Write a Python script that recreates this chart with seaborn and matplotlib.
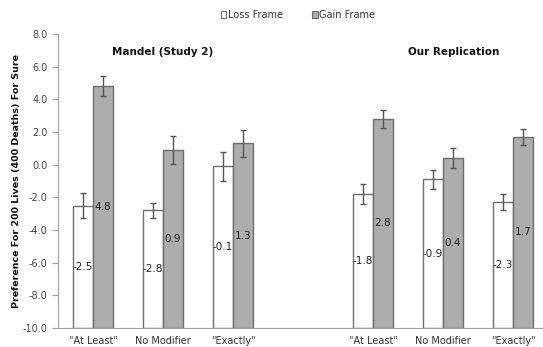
import matplotlib
matplotlib.use("Agg")
import matplotlib.pyplot as plt
import matplotlib.ticker as mticker
from matplotlib.patches import Patch
import numpy as np
import pandas as pd
import seaborn as sns

# Category slots: three modifiers per study, with an empty slot between the studies
slots = ["M_at_least", "M_none", "M_exactly", "gap", "R_at_least", "R_none", "R_exactly"]
slot_labels = ['"At Least"', "No Modifier", '"Exactly"', "", '"At Least"', "No Modifier", '"Exactly"']
data_slots = ["M_at_least", "M_none", "M_exactly", "R_at_least", "R_none", "R_exactly"]

loss_values = [-2.5, -2.8, -0.1, -1.8, -0.9, -2.3]
gain_values = [4.8, 0.9, 1.3, 2.8, 0.4, 1.7]
loss_err = [0.75, 0.45, 0.9, 0.6, 0.6, 0.5]
gain_err = [0.6, 0.85, 0.85, 0.55, 0.62, 0.5]

frames = ["Loss Frame", "Gain Frame"]
panel_titles = ["Mandel (Study 2)", "Our Replication"]
y_label = "Preference For 200 Lives (400 Deaths) For Sure"
baseline = -10.0

df = pd.DataFrame({
    "slot": data_slots * 2,
    "frame": [frames[0]] * len(data_slots) + [frames[1]] * len(data_slots),
    "value": loss_values + gain_values,
    "err": loss_err + gain_err,
})

sns.set_theme(style="white")
plt.rcParams["font.family"] = ["DejaVu Sans"]

fig = plt.figure(figsize=(5.43, 3.47), dpi=100)
ax = fig.add_axes([58 / 543, 1 - 328 / 347, 490 / 543, 294 / 347])

edge = "#6e6e6e"
palette = {frames[0]: "#ffffff", frames[1]: "#adadad"}
sns.barplot(data=df, x="slot", y="value", hue="frame", order=slots,
            hue_order=frames, palette=palette, width=40 / 70, gap=0,
            edgecolor=edge, linewidth=1.0, errorbar=None, legend=False,
            saturation=1, ax=ax)

# Bars rise from the bottom of the value axis rather than from zero
lookup = {(r.slot, r.frame): r for r in df.itertuples()}
for frame_i, frame in enumerate(frames):
    for patch in ax.containers[frame_i].patches:
        cx = patch.get_x() + patch.get_width() / 2
        slot = slots[int(round(cx))]
        row = lookup.get((slot, frame))
        if row is None:
            continue
        val = row.value
        patch.set_y(baseline)
        patch.set_height(val - baseline)
        ax.errorbar(cx, val, yerr=row.err, fmt="none", ecolor="#555555",
                    elinewidth=1.0, capsize=2.2, capthick=1.0, zorder=4)
        ax.text(cx, (val + baseline) / 2, f"{val:.1f}", ha="center",
                va="center", fontsize=7.5, color="#222222", zorder=5)

ax.set_ylim(baseline, 8)
ax.set_xlim(-0.5, len(slots) - 0.5)
ax.yaxis.set_major_locator(mticker.MultipleLocator(2))
ax.yaxis.set_major_formatter(mticker.FormatStrFormatter("%.1f"))
ax.set_xticks(range(len(slots)))
ax.set_xticklabels(slot_labels)
ax.xaxis.set_minor_locator(mticker.FixedLocator(np.arange(-0.5, len(slots), 1.0)))
ax.tick_params(axis="x", which="major", length=0, labelsize=7, colors="#333333", pad=6)
ax.tick_params(axis="x", which="minor", length=4, color="#a0a0a0", width=0.8, direction="out")
ax.tick_params(axis="y", length=4, color="#a0a0a0", width=0.8, direction="out",
               labelsize=7, labelcolor="#444444", left=True)
ax.set_xlabel("")
ax.set_ylabel(y_label, fontsize=6.8, fontweight="bold", color="#111111")
ax.yaxis.set_label_coords(-0.076, 0.5)

for side in ["top", "right"]:
    ax.spines[side].set_visible(False)
for side in ["left", "bottom"]:
    ax.spines[side].set_color("#a0a0a0")
    ax.spines[side].set_linewidth(0.8)

ax.text(1.0, 6.9, panel_titles[0], ha="center", va="center", fontsize=7.5,
        fontweight="bold", color="#111111")
ax.text(5.15, 6.9, panel_titles[1], ha="center", va="center", fontsize=7.5,
        fontweight="bold", color="#111111")

handles = [Patch(facecolor=palette[f], edgecolor=edge, linewidth=0.8, label=f) for f in frames]
fig.legend(handles=handles, loc="center", bbox_to_anchor=(298 / 543, 1 - 15 / 347),
           ncol=2, frameon=False, fontsize=7, handlelength=0.6, handleheight=0.6,
           handletextpad=0.15, columnspacing=3.0, labelcolor="#333333")

fig.savefig("out.png", dpi=100)
